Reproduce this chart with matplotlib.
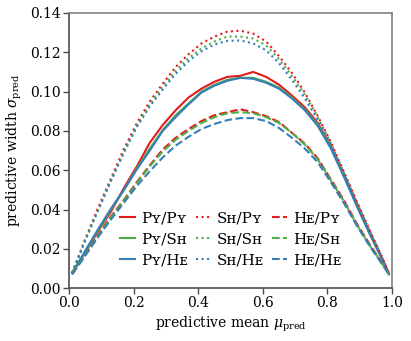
import numpy as np
import matplotlib
matplotlib.use("Agg")
import matplotlib.pyplot as plt

plt.rcParams['font.family'] = ['DejaVu Serif', 'DejaVu Sans']
plt.rcParams['mathtext.fontset'] = 'dejavuserif'
plt.rcParams['font.size'] = 10

#%% data

mu = [0.01, 0.05, 0.09, 0.13, 0.17, 0.21, 0.25, 0.29, 0.33, 0.37, 0.41, 0.45, 0.49,
      0.53, 0.57, 0.61, 0.65, 0.69, 0.73, 0.77, 0.81, 0.85, 0.89, 0.93, 0.97, 0.99]

# solid: Py / *
py_py = [0.008, 0.018, 0.029, 0.039, 0.051, 0.062, 0.074, 0.083, 0.0905, 0.097, 0.1015, 0.105, 0.1075,
         0.108, 0.110, 0.1075, 0.1035, 0.098, 0.092, 0.084, 0.0725, 0.058, 0.043, 0.0285, 0.0148, 0.0075]
py_sh = [0.008, 0.0185, 0.0295, 0.040, 0.050, 0.061, 0.071, 0.0805, 0.088, 0.094, 0.100, 0.1035, 0.106,
         0.107, 0.107, 0.105, 0.102, 0.097, 0.091, 0.0832, 0.072, 0.0575, 0.0425, 0.028, 0.0145, 0.0072]
py_he = [0.0075, 0.019, 0.030, 0.0405, 0.050, 0.0605, 0.070, 0.080, 0.087, 0.0935, 0.0995, 0.103, 0.1055,
         0.107, 0.1065, 0.1045, 0.1015, 0.0965, 0.0905, 0.0825, 0.0712, 0.057, 0.042, 0.0278, 0.0143, 0.007]

# dotted: Sh / *
sh_py = [0.008, 0.025, 0.041, 0.056, 0.071, 0.084, 0.095, 0.104, 0.1125, 0.119, 0.1245, 0.128, 0.1305,
         0.131, 0.1295, 0.1255, 0.118, 0.1095, 0.0995, 0.0875, 0.0745, 0.0595, 0.0445, 0.0298, 0.0155, 0.0075]
sh_sh = [0.008, 0.0245, 0.040, 0.055, 0.0695, 0.0825, 0.0935, 0.1025, 0.1105, 0.117, 0.122, 0.1255, 0.128,
         0.128, 0.127, 0.1235, 0.1165, 0.108, 0.0985, 0.087, 0.074, 0.059, 0.044, 0.0295, 0.0152, 0.0073]
sh_he = [0.0075, 0.024, 0.0395, 0.0545, 0.069, 0.082, 0.0925, 0.101, 0.109, 0.1155, 0.1205, 0.124, 0.1258,
         0.126, 0.1245, 0.121, 0.1145, 0.106, 0.0965, 0.0855, 0.073, 0.0585, 0.0435, 0.029, 0.015, 0.0072]

# dashed: He / *
he_py = [0.0075, 0.017, 0.027, 0.0365, 0.045, 0.054, 0.0625, 0.0705, 0.0765, 0.081, 0.085, 0.088, 0.0895,
         0.091, 0.0895, 0.0875, 0.0845, 0.079, 0.0735, 0.066, 0.0555, 0.045, 0.033, 0.0225, 0.0125, 0.0075]
he_sh = [0.0075, 0.017, 0.0265, 0.036, 0.0445, 0.0535, 0.062, 0.0695, 0.0755, 0.080, 0.084, 0.087, 0.089,
         0.0895, 0.089, 0.087, 0.084, 0.079, 0.073, 0.0655, 0.055, 0.0445, 0.0325, 0.022, 0.0122, 0.0072]
he_he = [0.007, 0.0165, 0.026, 0.035, 0.0435, 0.052, 0.0595, 0.0665, 0.0725, 0.077, 0.081, 0.0835, 0.0855,
         0.0865, 0.0865, 0.085, 0.0815, 0.0765, 0.071, 0.064, 0.054, 0.0435, 0.032, 0.0215, 0.012, 0.007]

#%%

red = '#e41a1c'
green = '#4daf4a'
blue = '#377eb8'

fig = plt.figure(figsize=(4.11, 3.41), dpi=100)
ax = fig.add_axes([0.168, 0.155, 0.786, 0.807])

lw = 1.5
ax.plot(mu, py_py, color=red, ls='-', lw=lw, label='P\u028f/P\u028f')
ax.plot(mu, py_sh, color=green, ls='-', lw=lw, label='P\u028f/S\u029c')
ax.plot(mu, py_he, color=blue, ls='-', lw=lw, label='P\u028f/H\u1d07')
ax.plot(mu, sh_py, color=red, ls=':', lw=lw, label='S\u029c/P\u028f')
ax.plot(mu, sh_sh, color=green, ls=':', lw=lw, label='S\u029c/S\u029c')
ax.plot(mu, sh_he, color=blue, ls=':', lw=lw, label='S\u029c/H\u1d07')
ax.plot(mu, he_py, color=red, ls='--', lw=lw, label='H\u1d07/P\u028f')
ax.plot(mu, he_sh, color=green, ls='--', lw=lw, label='H\u1d07/S\u029c')
ax.plot(mu, he_he, color=blue, ls='--', lw=lw, label='H\u1d07/H\u1d07')

ax.set_xlim(0, 1)
ax.set_ylim(0, 0.14)
ax.set_xticks([0.0, 0.2, 0.4, 0.6, 0.8, 1.0])
ax.set_yticks([0.0, 0.02, 0.04, 0.06, 0.08, 0.10, 0.12, 0.14])
ax.set_yticklabels(['0.00', '0.02', '0.04', '0.06', '0.08', '0.10', '0.12', '0.14'])

ax.set_xlabel(r'predictive mean $\mu_\mathrm{pred}$', labelpad=3)
ax.set_ylabel(r'predictive width $\sigma_\mathrm{pred}$', labelpad=4)

for s in ['left', 'bottom']:
    ax.spines[s].set_color('0.3')
for s in ['top', 'right']:
    ax.spines[s].set_color('0.5')
for s in ax.spines.values():
    s.set_linewidth(1.2)
ax.tick_params(direction='out', length=4, width=1.0, color='0.3', pad=2)

ax.legend(loc='lower center', ncol=3, frameon=False, fontsize=11, handlelength=1.0,
          handletextpad=0.4, columnspacing=0.5, labelspacing=0.45,
          bbox_to_anchor=(0.5, 0.025))

fig.savefig('out.png', dpi=100)
